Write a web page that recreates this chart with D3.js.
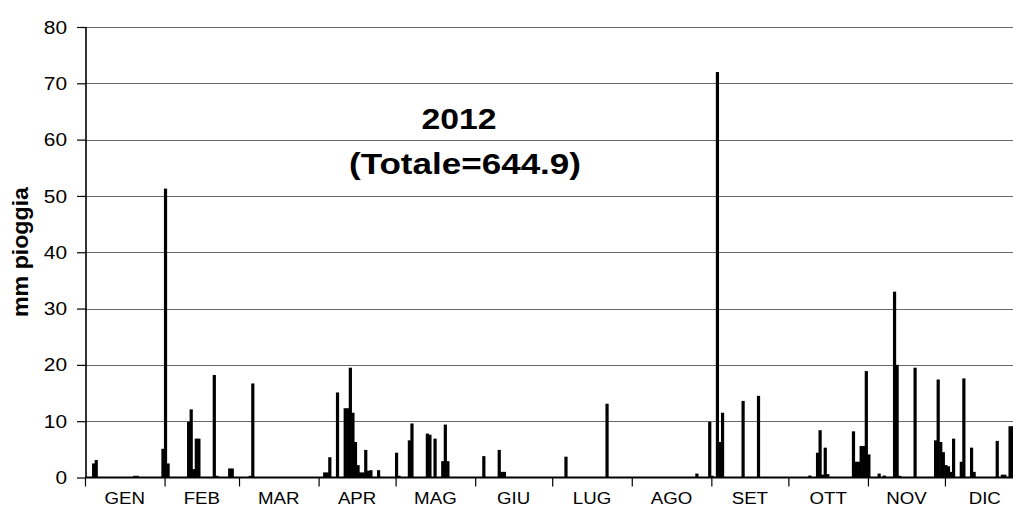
<!DOCTYPE html>
<html>
<head>
<meta charset="utf-8">
<script src="https://cdn.jsdelivr.net/npm/d3@7"></script>
<style>
  html, body { margin: 0; padding: 0; background: #fff; }
  svg { display: block; }
  text { font-family: "Liberation Sans", Arial, sans-serif; fill: #000; }
</style>
</head>
<body>
<div id="chart"></div>
<script>
// ---- data ----
const months = ["GEN","FEB","MAR","APR","MAG","GIU","LUG","AGO","SET","OTT","NOV","DIC"];
const monthDays = [31,29,31,30,31,30,31,31,30,31,30,31];
const yTicks = [0,10,20,30,40,50,60,70,80];
const titleYear = "2012";
const titleTotal = "(Totale=644.9)";
const yLabel = "mm pioggia";
// day of year (0 = 1 Jan 2012) and rainfall (mm)
const rainDay = [
  3,4,19,20,30,31,32,40,41,42,43,44,50,51,56,57,64,65,
  93,94,95,98,101,102,103,104,105,106,107,108,109,110,111,114,
  121,122,126,127,133,134,136,139,140,141,
  155,161,162,163,
  187,203,
  238,243,
  244,246,247,248,256,262,
  282,285,286,287,288,289,299,300,301,302,303,304,
  305,309,311,315,316,317,323,331,332,333,334,
  335,336,337,338,341,342,345,346,355,357,358,360,361
];
const rainMm = [
  2.5,3.1,0.3,0.3,5.1,51.3,2.5,9.9,12.1,1.5,6.9,6.9,18.2,0.3,1.6,1.6,0.3,16.7,
  0.9,0.9,3.6,15.1,12.3,12.3,19.5,11.5,6.3,2.2,0.9,0.9,4.9,1.2,1.3,1.3,
  4.4,0.3,6.6,9.6,7.8,7.6,6.9,2.9,9.4,2.9,
  3.8,4.9,1.0,1.0,
  3.7,13.1,
  0.7,9.9,
  0.3,72.0,6.3,11.5,13.6,14.5,
  0.35,4.4,8.4,0.5,5.3,0.6,8.2,2.8,2.8,5.6,5.6,18.9,
  4.1,0.7,0.35,33.0,20.0,0.3,19.5,6.6,17.4,6.3,4.5,
  2.2,2.0,1.0,6.9,2.8,17.6,5.3,1.0,6.5,0.5,0.5,9.1,9.1
];

// ---- layout ----
const W = 1013, H = 507;
const dayW = 2.567;
const x0 = 85;
const svg = d3.select("#chart").append("svg").attr("width", W).attr("height", H);

const x = d3.scaleLinear().domain([0, 366]).range([x0, x0 + 366 * dayW]);
const y = d3.scaleLinear().domain([0, 80]).range([477.5, 27]);

// month boundaries (day index of first day)
const monthStart = [0];
monthDays.forEach((d, i) => monthStart.push(monthStart[i] + d));

// gridlines
svg.append("g").selectAll("line").data(yTicks.filter(v => v > 0)).join("line")
  .attr("x1", x0).attr("x2", W)
  .attr("y1", d => Math.round(y(d)) + 0.5).attr("y2", d => Math.round(y(d)) + 0.5)
  .attr("stroke", "#6a6a6a").attr("stroke-width", 1);

// bars
const bars = rainDay.map((d, i) => ({ day: d, v: rainMm[i] }));
const barW = 3.2;
svg.append("g").selectAll("rect").data(bars).join("rect")
  .attr("x", d => x(d.day + 0.37) - barW / 2)
  .attr("width", barW)
  .attr("y", d => y(d.v))
  .attr("height", d => y(0) - y(d.v))
  .attr("fill", "#000");

// y axis
const yAxis = d3.axisLeft(y).tickValues(yTicks).tickSize(9).tickFormat("");
const gy = svg.append("g").attr("transform", `translate(${x0 + 1},0)`).call(yAxis);
gy.select(".domain").attr("stroke", "#000").attr("stroke-width", 1.6).attr("d", `M0,${y(80)}V${y(0)}`);
gy.selectAll(".tick line").attr("stroke", "#000").attr("stroke-width", 1.2);

// x axis (ticks at month boundaries)
const xAxis = d3.axisBottom(x).tickValues(monthStart).tickSize(9).tickFormat("");
const gx = svg.append("g").attr("transform", `translate(0,${y(0)})`).call(xAxis);
gx.select(".domain").attr("stroke", "#000").attr("stroke-width", 1.8).attr("d", `M${x0},0H${x(366)}`);
gx.selectAll(".tick line").attr("stroke", "#000").attr("stroke-width", 1.2);

// y tick labels (slightly stretched horizontally like the original raster)
svg.append("g").selectAll("text").data(yTicks).join("text")
  .attr("transform", d => `translate(67,${y(d) + 6.6}) scale(1.13,1)`)
  .attr("text-anchor", "end")
  .style("font-size", "18.5px")
  .text(d => d);

// month labels centred in each month
svg.append("g").selectAll("text").data(months).join("text")
  .attr("transform", (m, i) => `translate(${(x(monthStart[i]) + x(monthStart[i + 1])) / 2},504) scale(1.1,1)`)
  .attr("text-anchor", "middle")
  .style("font-size", "17px")
  .text(m => m);

// y axis title
svg.append("text")
  .attr("transform", "translate(28,252) rotate(-90)")
  .attr("text-anchor", "middle")
  .attr("textLength", 130).attr("lengthAdjust", "spacingAndGlyphs")
  .style("font-size", "22px").style("font-weight", "bold")
  .text(yLabel);

// title
svg.append("text")
  .attr("x", 459).attr("y", 128.5)
  .attr("text-anchor", "middle")
  .attr("textLength", 75).attr("lengthAdjust", "spacingAndGlyphs")
  .style("font-size", "30px").style("font-weight", "bold")
  .text(titleYear);
svg.append("text")
  .attr("x", 465).attr("y", 173.5)
  .attr("text-anchor", "middle")
  .attr("textLength", 232).attr("lengthAdjust", "spacingAndGlyphs")
  .style("font-size", "30px").style("font-weight", "bold")
  .text(titleTotal);
</script>
</body>
</html>
